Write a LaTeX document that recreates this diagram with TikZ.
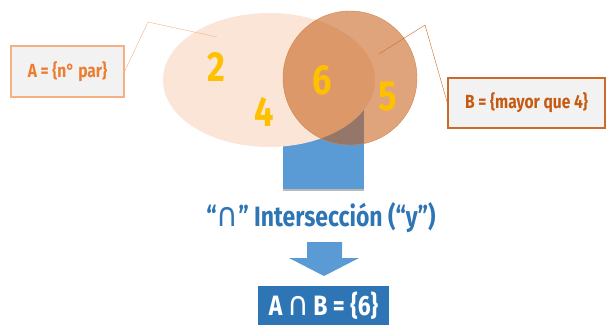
\documentclass[tikz,border=0pt]{standalone}
\usepackage{fontspec}
\setmainfont{Fira Sans}[FakeStretch=0.82]
\newfontfamily\symfont{DejaVu Sans}[FakeStretch=0.9]
\usetikzlibrary{positioning}
\definecolor{SetAClr}{RGB}{251,229,214}
\definecolor{SetBClr}{RGB}{197,90,17}
\definecolor{LineAClr}{RGB}{244,177,131}
\definecolor{TextAClr}{RGB}{237,125,49}
\definecolor{NumClr}{RGB}{255,192,0}
\definecolor{BarClr}{RGB}{91,155,213}
\definecolor{DeepBlueClr}{RGB}{46,117,182}
\definecolor{BoxClr}{RGB}{242,242,242}
\newcommand{\capsym}{{\fontsize{33}{33}\symfont\mdseries ∩}}

\begin{document}
\begin{tikzpicture}[x=1pt,y=-1pt]
\tikzset{num/.style={text=NumClr,font=\fontsize{42}{42}\selectfont\bfseries},
  setbox/.style={fill=BoxClr,line width=1.2pt,font=\fontsize{19}{19}\selectfont\bfseries},
  bigtxt/.style={font=\fontsize{28}{28}\selectfont\bfseries}}
\useasboundingbox (0,0) rectangle (606,325);

% bar under the sets
\fill[BarClr] (283,88) rectangle (364,190);
\draw[gray!55,line width=1.5pt] (283,190) -- (364,190);

% the two sets
\fill[SetAClr] (269,80) ellipse (106 and 67);
\draw[SetBClr!75,fill=SetBClr,fill opacity=.55] (350,78) circle (67);

\node[num] (n2) at (216,67) {2};
\node[num] (n4) at (264,112) {4};
\node[num] (n6) at (322,80) {6};
\node[num] (n5) at (388,97) {5};

% labels with callouts
\node[setbox,draw=LineAClr,text=TextAClr,minimum width=113pt,minimum height=51pt] (boxA) at (67.5,71.5) {A = \{n° par\}};
\coordinate (tipA) at (217,37);
\draw[LineAClr] (boxA.east) -- (148,22) -- (tipA);

\node[setbox,draw=SetBClr!90,text=SetBClr,minimum width=157pt,minimum height=50pt] (boxB) at (526.5,103) {B = \{mayor que 4\}};
\coordinate (tipB) at (379,54);
\draw[SetBClr!90] (boxB.west) -- (425,25) -- (tipB);

% result
\node[bigtxt,text=DeepBlueClr] (inter) at (321,218) {“\capsym” Intersección (“y”)};
\fill[BarClr] (307,242) -- (342,242) -- (342,258) -- (359,258) -- (324,276) -- (289,258) -- (307,258) -- cycle;
\node[bigtxt,fill=DeepBlueClr,text=white,minimum width=131pt,minimum height=39pt] (res) at (323.5,305.5) {A\,\capsym\,B = \{6\}};
\end{tikzpicture}
\end{document}
